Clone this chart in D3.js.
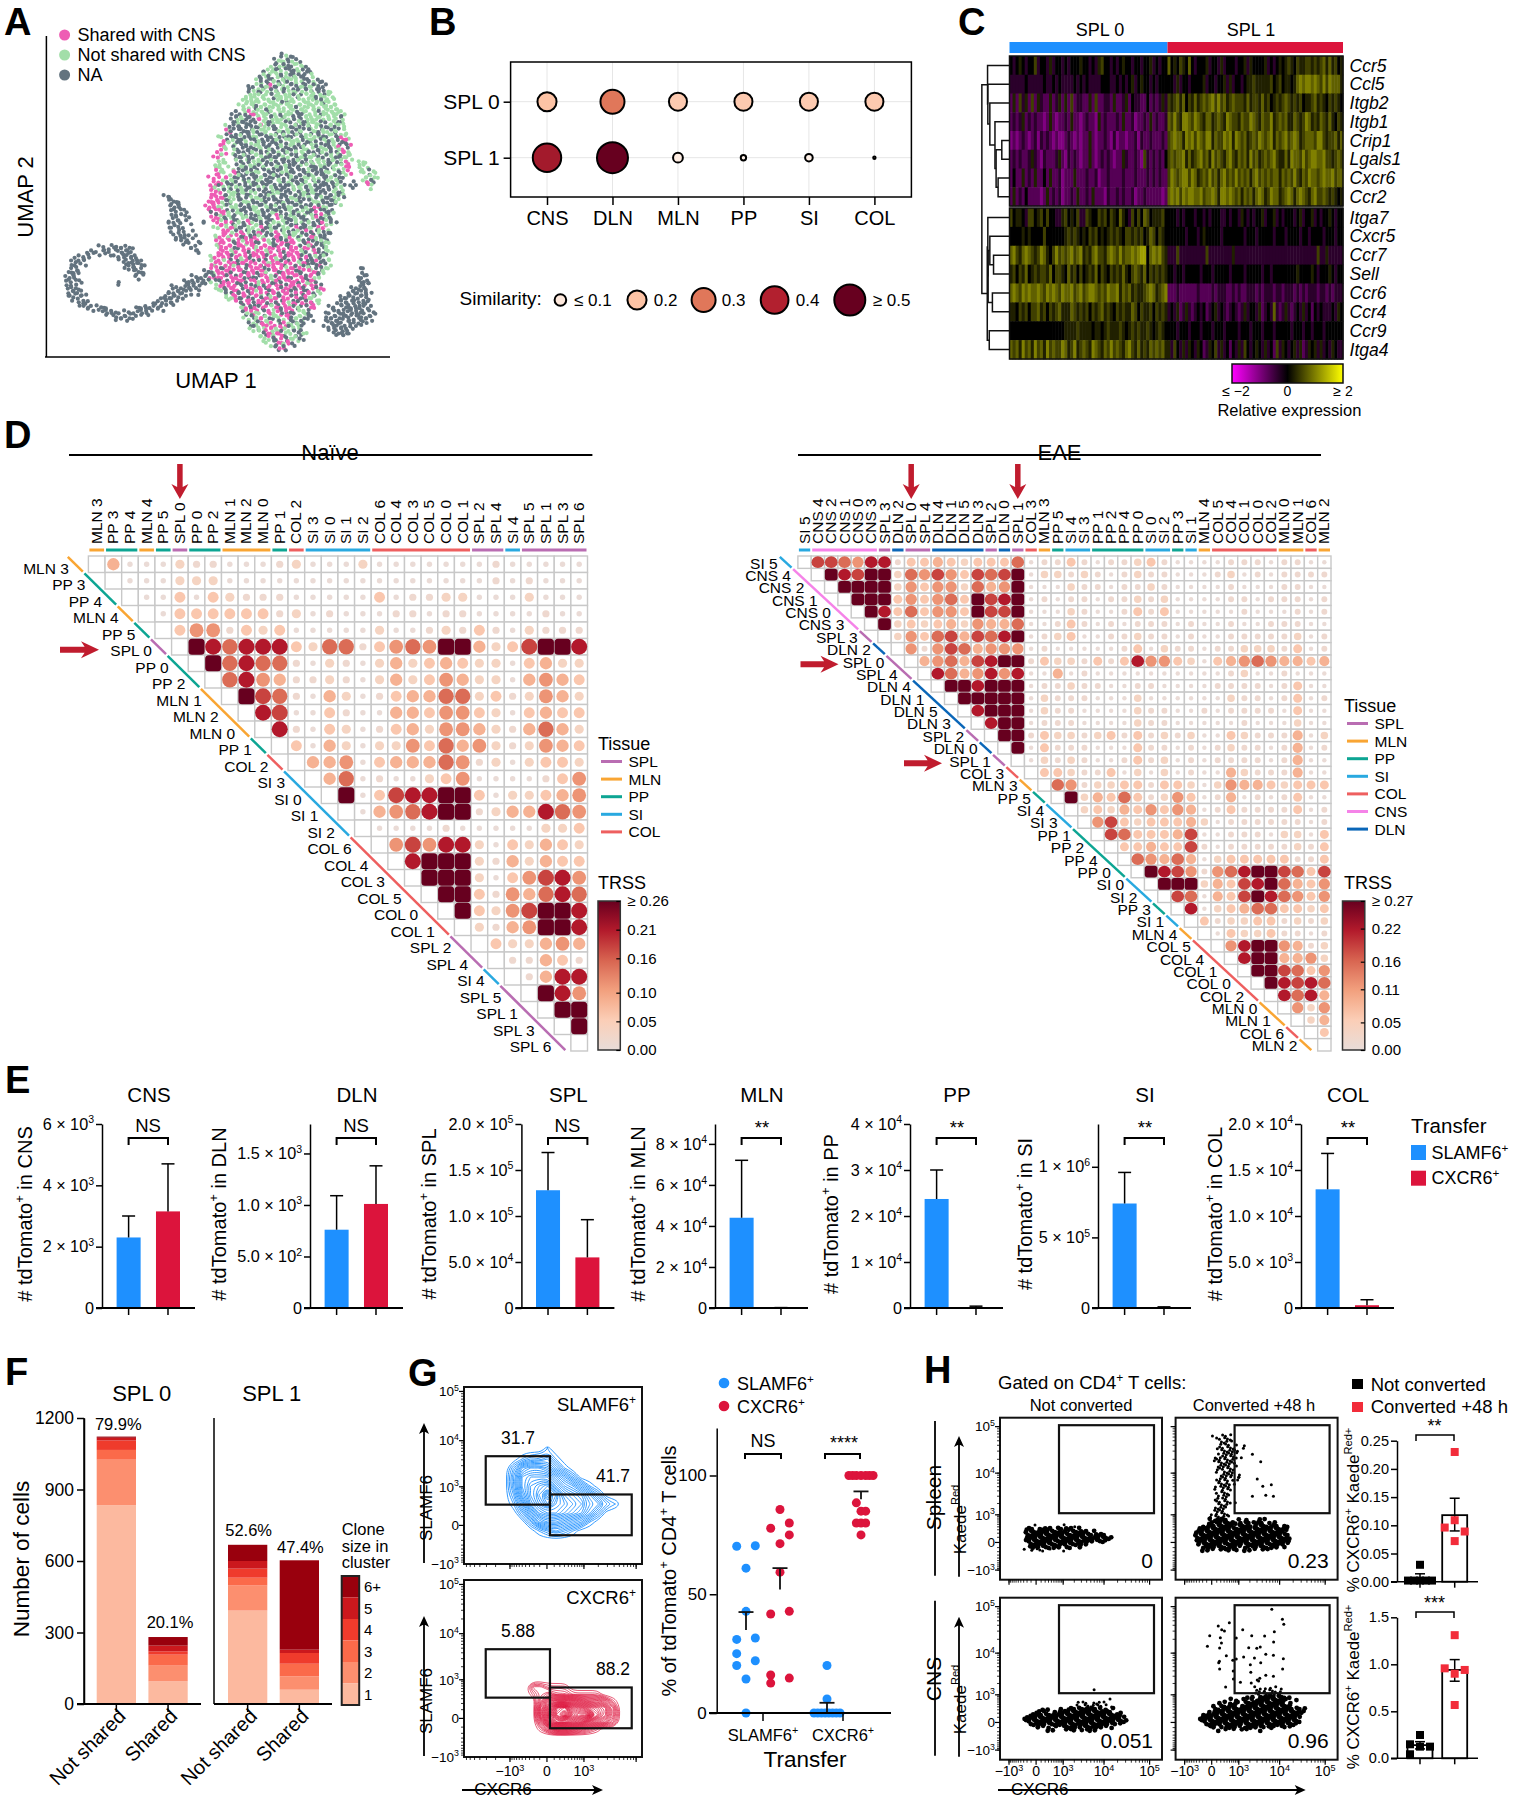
<!DOCTYPE html>
<html>
<head>
<meta charset="utf-8">
<script src="https://cdn.jsdelivr.net/npm/d3@7"></script>
<style>
  body { margin: 0; background: #fff; }
  svg { display: block; }
  text { font-family: "Liberation Sans", Arial, sans-serif; fill: #000; white-space: pre; }
</style>
</head>
<body>
<div id="chart"></div>
<script>
// ---------- panel A: UMAP cells, [row, first column, cells]
// n = NA, g = not shared with CNS, p = shared with CNS
const umapCells = [
  [0,44,"ngn"],[1,42,"nggngn"],[2,42,"gngnnggn"],[3,40,"nggngnngnn"],[4,40,"ngngngngnng"],
  [5,39,"gnngngnggnngnn"],[6,38,"ngngpnggnngngnn"],[7,37,"ngnggngnggngngnng"],[8,37,"gggggnggggngggnggg"],
  [9,36,"ggggggggngggggggngg"],[10,36,"gggngggggggngggggggg"],[11,35,"ngpgggngggggngggnggggg"],
  [12,34,"nngnnpggngnggnngggggggn"],[13,34,"ngnnnpgngggnngngggnggng"],[14,33,"gnnnnnnggnnggngnnggnngng"],
  [15,33,"pnnnngnggngngnngngnggngg"],[16,32,"gnnngnngnnngngngngggnngnpg"],[17,32,"pggnngngnnngngggnngngngnnp"],
  [18,32,"pg.nnnnggnnngngnnggngnngpn"],[19,31,"pp.gnnngnngngngnggnnnggngpg"],[20,31,"pg..nngnggnnnngnngnggnngnng"],
  [21,31,"gg..gnnggnngnnnngnngggngngp"],[22,31,"gg.gngngnngngngnnngnngnnggp"],[23,31,"pg.pnngngnnnnggnnngnnnggngp"],
  [24,30,"pp.pgngnnngnngnngnngngnngnn"],[25,30,"ppgngnngngnnngngnnnggnngngn"],[26,30,"pgngnggnnngngnnnnggngnnnngg"],
  [27,30,"ppnggngngnnnggnngngngnnngng"],[28,30,"pppnggnnggnngnnngnnggngnngn"],[29,29,"pppgngnggnngnnngnngnnggnnng"],
  [30,29,"pppgnggnnngngngnngnngnpngn"],[31,30,"pppgngnnggnngnngnggnnpnng"],[32,30,"ppgngnggnngnnpgnggnngpngn"],
  [33,31,"pgpngnpgnnngggnngngnnpgn"],[34,31,"gpgpgnnggpngnngnpnngnpg"],[35,32,"ppgnpgnpnngpgnggnpngnn"],
  [36,31,"gppgpnpnpggnpngpgnnpgnn"],[37,31,"pppnpgppnpgnppnpgnpnngg"],[38,31,"gpppnpppgpppnpnppnpgnng"],
  [39,31,"pppgppnpppgppnpppgnpnng"],[40,30,"gpppnpgpnppnpgpnppnpngng"],[41,30,"gpgppnpppnpgppnppgpnnpng"],
  [42,30,"ppnppgpnpppnpppgpnpngnng"],[43,29,"ngpppnpnppnpgpnpppnnppng"],[44,29,"gpnpnpppnpnppgnppnppnpg"],
  [45,30,"gnpppnpnpgppnpnppnpgpn"],[46,31,"gpnppnppnpnppnppnpnpnp"],[47,32,"gnpnpnpgpnpnppnpnpng"],
  [48,33,"ggpnpnpnpgpnpnpnpgg"],[49,35,"pnpnppnpnpgpnpnpg"],[50,36,"gpnpnpgpnppngnp"],
  [51,36,"ngpgnpgpnpnggn"],[52,37,"gngpgnggpnggnn"],[53,37,"ngnpgpnpgngn"],[54,38,"gngppgpgngn"],
  [55,39,"gnpgpngnng"],[56,40,"ggpnpnggn"],[57,41,"gnpgpn"],[58,43,"npn"],
  // ear on the right of the body
  [19,57,"g"],[20,58,"g"],[21,59,"gg"],[22,60,"gg"],[23,60,"gng"],[24,61,"ggg"],[25,58,"n.gpn"],[26,58,"n...g"],
  // upper grey arm
  [28,21,"nn"],[29,21,"nnn"],[30,22,"nnn"],[31,22,"nnn.....n"],[32,22,"nn.n"],[33,21,"nnn.n..n"],[34,22,"n.n"],
  [35,22,"nnn.n"],[36,23,"nnnn"],[37,24,"nn.n"],[38,26,"nn"],[39,27,"n"],
  // grey loop
  [38,8,"nnnnnnn"],[39,5,"nnnnn.nnnn"],[40,3,"nnn.....nnnnn"],[41,2,"nnn.......nnnnn"],[42,2,"nn.........nnnn"],
  [43,1,"nnn..........nnn"],[44,1,"nnn...........n"],[45,1,"nnn.......n"],[46,1,"nnn"],[47,1,"nnnn"],
  [48,2,"nnn"],[49,3,"nnn"],[50,5,"nnnnn.....nnnnnn"],[51,8,"nnnnnnnnnn"],[52,11,"nnnn"],
  [43,28,"nn"],[44,26,"nnnn"],[45,24,"nnnnn"],[46,22,"nnnnnn"],[47,21,"nnnnn.n"],[48,20,"nnnnn"],[49,18,"nnnnn"],
  // grey cluster on the lower right
  [42,60,"n"],[43,60,"n"],[44,60,"nn"],[45,59,"nnn"],[46,58,"nnnn"],[47,57,"nnnnn"],[48,56,"nnnnnn"],[49,55,"nnnnnnn"],
  [50,54,"nnnnnnnn"],[51,53,"nnnnnnnnnn"],[52,53,"nnnnnnnnnn"],[53,53,"nnnnnnnn"],[54,53,"nnnnnn"],[55,54,"nnnn"]
];
const umapLegend = ["Shared with CNS", "Not shared with CNS", "NA"];
// small fixed offsets so the cell lattice does not show
const cellSpread = [[-1.4,-0.9],[1.2,0.6],[-0.4,1.5],[1.6,-1.3],[0.3,-0.5],[-1.7,0.8],[0.9,1.7]];

// ---------- panel B
const bubbleTissues = ["CNS", "DLN", "MLN", "PP", "SI", "COL"];
const bubbleClusters = ["SPL 0", "SPL 1"];
const bubbleSpl0 = [0.19, 0.30, 0.17, 0.17, 0.17, 0.17];
const bubbleSpl1 = [0.42, 0.50, 0.05, 0.015, 0.03, 0.003];
const bubbleLegendValues = [0.07, 0.19, 0.30, 0.40, 0.50];
const bubbleLegendLabels = ["≤ 0.1", "0.2", "0.3", "0.4", "≥ 0.5"];

// ---------- panel C: one digit per cell, 0 = low, 4 = middle, 9 = high
const heatGenes = ["Ccr5","Ccl5","Itgb2","Itgb1","Crip1","Lgals1","Cxcr6","Ccr2","Itga7","Cxcr5","Ccr7","Sell","Ccr6","Ccr4","Ccr9","Itga4"];
const heatSpl0 = [
  "4345434463443534434344454434356443434544344344534344",
  "3333343333343343433334343433334443343434534544343444",
  "2526352625322523525262332252622332522352433224232353",
  "2323523232212521223252212322152322232522312232523223",
  "1212321231323212112321212252122321312212231322322232",
  "2323223532132223521323212252123232122532232163232324",
  "2422523252242522312225222322312232222322232223232322",
  "2523242222125232312232522325222132232322312232222212",
  "6455436645646443356454633654465646547543646476455564",
  "4444545444464444445656545465645456565466565645764654",
  "7865787656875468676786785657866578768677878994787865",
  "5646574565665746654756464565746546565754676574656565",
  "7876878778768787687786786788767687785767565567875678",
  "5546564667564656755576565646567565465655764655646565",
  "4444444444444444445555655554554565556545656556545654",
  "7675867586758676687568567658765768676578657565767675"
];
const heatSpl1 = [
  "745465474344453443534443445354444534345456546556656567575645",
  "443534434444534434453534434556555556456455457878878768687775",
  "656757465756767868675676665756657564565676565645567565465654",
  "768658876876577567658766576687657668567675576568756576575465",
  "678775878687688576687858767567687678576786787567776886566757",
  "676778575678675867657865767586756767865575877686788778665676",
  "687678868756768675786768676757867676775767686576877678778677",
  "787868788778677875887876757675787568775678757876578667656545",
  "444343444344343444334344354343445344534344434534453434454344",
  "444444344434544444344444443444344444344434444344344443444344",
  "333633333333363333333353333333333333333333333333333633533333",
  "443443444443444344444344443444443443444444445444454344454344",
  "222322222232222323332232322333232333233233323232333233232333",
  "343523532343423453432343235344352343732353234353424343334354",
  "444344434443444344434444344434443444344444344434434443444444",
  "536435354354235463534243536434543534263543453523545353435433"
];
// [height, child, child], leaves are indexes into heatGenes
const dendroTree = [0.97,
  [0.77, 0, [0.76, 1, [0.69, 2, [0.51, 3, [0.47, [0.27, 4, 5], [0.40, 6, 7]]]]]],
  [0.78, [0.76, 8, [0.75, [0.69, 9, [0.56, 10, 11]], [0.60, 12, 13]]], [0.71, 14, 15]]
];

// ---------- panel D: digit per cell right of the diagonal, level into trssLevels
const trssLevels = [0.004, 0.015, 0.035, 0.06, 0.085, 0.115, 0.15, 0.18, 0.21, 0.26];
const naiveLabels = ["MLN 3","PP 3","PP 4","MLN 4","PP 5","SPL 0","PP 0","PP 2","MLN 1","MLN 2","MLN 0","PP 1","COL 2","SI 3","SI 0","SI 1","SI 2","COL 6","COL 4","COL 3","COL 5","COL 0","COL 1","SPL 2","SPL 4","SI 4","SPL 5","SPL 1","SPL 3","SPL 6"];
const naiveRows = [
  "40002110001200020000000100000",
  "0002220000000000000000101000",
  "003032111000003011220002000",
  "03333331201000110110000100",
  "3551323000002001213102111",
  "986888326613565994237998",
  "96866102102423432203422",
  "6854112102423542204543",
  "976104201344662312542",
  "87003100443553203433",
  "8103201342554214642",
  "304202253645212543",
  "44503444651202332",
  "4601002350000135",
  "903788993022345",
  "04568991244865",
  "0000100000223",
  "575882032432",
  "89992142433",
  "9992035785",
  "993154686",
  "93257998",
  "2145998",
  "322454",
  "11431",
  "1488",
  "985",
  "99",
  "9"
];
const eaeLabels = ["SI 5","CNS 4","CNS 2","CNS 1","CNS 0","CNS 3","SPL 3","DLN 2","SPL 0","SPL 4","DLN 4","DLN 1","DLN 5","DLN 3","SPL 2","DLN 0","SPL 1","COL 3","MLN 3","PP 5","SI 4","SI 3","PP 1","PP 2","PP 4","PP 0","SI 0","SI 2","PP 3","SI 1","MLN 4","COL 5","COL 4","COL 1","COL 0","COL 2","MLN 0","MLN 1","COL 6","MLN 2"];
const eaeRows = [
  "776588133432333601131011231000011101100",
  "98799265753767902212101211000120101111",
  "9999253552645900021101121000010001100",
  "999353563978901011011212000011011101",
  "98363553977900021001313000001000101",
  "9232342544600131010111010010011100",
  "253674768901230011211010011111201",
  "51576455501000001302110112221301",
  "4564789913221313855320345654434",
  "864585800401000000000012001000",
  "99899901121100110000111101300",
  "9999902111000200000021101301",
  "899902110000211001011110300",
  "89901110000211000001000200",
  "9913221231312120032111402",
  "903111000311010121101401",
  "02121001312010111101400",
  "3321130202010042111400",
  "651223313320254432333",
  "92436312530140101300",
  "2324353540131111301",
  "573233342011111101",
  "76333470011102203",
  "3343371011111213",
  "654640233333113",
  "98751568997637",
  "9992437896435",
  "760437986535",
  "80234663323",
  "3122331212",
  "032231101",
  "58995412",
  "8994452",
  "997635",
  "98786",
  "8684",
  "525",
  "24",
  "3"
];
const tissueLegendNaive = ["SPL", "MLN", "PP", "SI", "COL"];
const tissueLegendEae = ["SPL", "MLN", "PP", "SI", "COL", "CNS", "DLN"];
const trssTicksNaive = [0, 0.05, 0.10, 0.16, 0.21, 0.26];
const trssLabelsNaive = ["0.00", "0.05", "0.10", "0.16", "0.21", "≥ 0.26"];
const trssTicksEae = [0, 0.05, 0.11, 0.16, 0.22, 0.27];
const trssLabelsEae = ["0.00", "0.05", "0.11", "0.16", "0.22", "≥ 0.27"];

// ---------- panel E
const transferGroups = ["SLAMF6+", "CXCR6+"];
const eTissues = ["CNS", "DLN", "SPL", "MLN", "PP", "SI", "COL"];
const eMax = [6000, 1786, 2e5, 8.97e4, 4e4, 1.303e6, 2e4];
const eSlamfMean = [2300, 760, 1.28e5, 4.4e4, 2.37e4, 7.4e5, 1.29e4];
const eSlamfTop = [3000, 1090, 1.69e5, 7.2e4, 3e4, 9.6e5, 1.68e4];
const eCxcrMean = [3150, 1010, 5.5e4, 100, 200, 4000, 300];
const eCxcrTop = [4700, 1380, 9.6e4, 200, 400, 8000, 900];
const eSig = ["NS", "NS", "NS", "**", "**", "**", "**"];
const eTicks = [
  [0, 2000, 4000, 6000],
  [0, 500, 1000, 1500],
  [0, 5e4, 1e5, 1.5e5, 2e5],
  [0, 2e4, 4e4, 6e4, 8e4],
  [0, 1e4, 2e4, 3e4, 4e4],
  [0, 5e5, 1e6],
  [0, 5e3, 1e4, 1.5e4, 2e4]
];
const eTickLabels = [
  ["0", "2 × 10^3", "4 × 10^3", "6 × 10^3"],
  ["0", "5.0 × 10^2", "1.0 × 10^3", "1.5 × 10^3"],
  ["0", "5.0 × 10^4", "1.0 × 10^5", "1.5 × 10^5", "2.0 × 10^5"],
  ["0", "2 × 10^4", "4 × 10^4", "6 × 10^4", "8 × 10^4"],
  ["0", "1 × 10^4", "2 × 10^4", "3 × 10^4", "4 × 10^4"],
  ["0", "5 × 10^5", "1 × 10^6"],
  ["0", "5.0 × 10^3", "1.0 × 10^4", "1.5 × 10^4", "2.0 × 10^4"]
];

// ---------- panel F
const cloneKeys = ["1", "2", "3", "4", "5", "6+"];
const cloneBars = ["Not shared", "Shared"];
const cloneSpl0 = [[834, 191, 41, 40, 11, 5], [95, 66, 46, 14, 24, 36]];
const cloneSpl1 = [[392, 105, 33, 38, 32, 68], [60, 56, 53, 45, 14, 375]];
const clonePctSpl0 = ["79.9%", "20.1%"];
const clonePctSpl1 = ["52.6%", "47.4%"];
const cloneTicks = [0, 300, 600, 900, 1200];

// ---------- panel G: density, one row per line
const slamfDensity = [
  [0,0,0,0,0,1,0,0,0,0,0,0,0,0,0],
  [0,0,1,2,2,3,1,0,0,0,0,0,0,0,0],
  [0,2,5,6,6,5,3,1,0,0,0,0,0,0,0],
  [0,3,7,8,8,8,6,4,2,0,0,0,0,0,0],
  [0,3,7,9,10,11,8,6,5,3,1,0,0,0,0],
  [0,2,6,9,11,14,11,8,7,6,4,2,0,0,0],
  [0,1,4,8,10,12,10,9,8,7,5,4,2,1,0],
  [0,0,2,5,8,9,9,8,7,6,4,2,0,0,0],
  [0,0,0,2,5,6,6,5,4,3,1,0,0,0,0],
  [0,0,0,0,1,2,3,2,1,0,0,0,0,0,0],
  [0,0,0,0,0,0,0,0,0,0,0,0,0,0,0]
];
const cxcrDensity = [
  [0,0,0,0,0,0,0,0,0,0,0,0,0],
  [0,2,2,1,1,1,0,0,0,0,0,0,0],
  [0,1,2,3,2,2,1,1,1,1,0,0,0],
  [0,0,3,6,7,7,6,5,4,4,3,1,0],
  [0,0,5,9,13,14,10,9,8,7,6,3,0],
  [0,0,5,10,14,16,12,11,12,8,6,3,0],
  [0,0,3,8,11,11,9,8,6,5,4,2,0],
  [0,0,1,3,5,5,4,3,2,1,0,0,0],
  [0,0,0,0,0,0,0,0,0,0,0,0,0]
];
const flowTickValues = [-1e3, 0, 1e3, 1e4, 1e5];
const flowTickLabels = ["−10^3", "0", "10^3", "10^4", "10^5"];
const gateSlamf = [-3100, 38, 324, 4760];   // xLow, xHigh, yLow, yHigh
const gateCxcr = [38, 8350, -116, 640];
// [percent, swarm slot]
const swarmSlamfInSlamf = [[70.2,-1],[70.4,1],[61,0],[42.8,0],[31,-1],[31.6,1],[25,-1],[22,1],[20,-1],[14.3,0],[0,0]];
const swarmCxcrInSlamf = [[85.7,0],[80,1],[77.8,-1],[75,1],[71.3,0],[59.3,0],[42.8,1],[41.7,-1],[16,-1],[14.7,1],[12.6,-1]];
const swarmSlamfInCxcr = [[20,0],[5.9,0],[0,-1.4],[0,-1],[0,-0.6],[0,-0.2],[0,0.2],[0,0.6],[0,1],[0,1.4]];
const swarmCxcrInCxcr = [[100,-1.3],[100,-0.9],[100,-0.5],[100,0],[100,0.5],[100,0.9],[100,1.3],[88.5,-0.5],[85,0],[85,0.5],[80,-0.5],[80,0],[80,0.5],[75,0]];
const swarmMeans = [[42.5, 35], [61, 52], [4.3, 0], [93.3, 90]];

// ---------- panel H: dots on a 54 x 54 grid over each flow plot, [row, first column, cells]
const flowSpleenNot = [
  [36,12,"#........#...#"],[37,9,"###.#####.##.###.#"],[38,9,"##############.######.#"],[39,9,"######################.####"],
  [40,9,"#############################"],[41,9,"###########################"],[42,10,"#########.########.#"],
  [43,10,"#######.###.##...#"],[44,8,"#..####..#...#"]
];
const flowSpleenConv = [
  [6,12,"#...###"],[7,14,"#####"],[8,15,"###.#"],[9,15,"#.##.#..#"],[10,14,"######...#"],[11,15,"#####.#"],[12,14,"#.#####"],
  [13,13,"#.######"],[14,13,"#######"],[15,14,"#######"],[16,14,"#####.#"],[17,14,"######"],[18,14,"#.####"],[19,15,"#####.#"],
  [20,15,"####..#"],[21,14,"####.#.#"],[22,14,"#####.#"],[23,13,"#.####"],[24,13,"#..###"],[25,14,"####"],[26,14,"#.###"],
  [27,13,"##.##"],[28,14,"#####.#"],[29,14,"####"],[30,13,"#####"],[31,13,"####"],[32,12,"#.####"],[33,12,"#####.#"],
  [34,11,"#.#####...#..#...#.#"],[35,11,"##.#######.###.####.#.#"],[36,9,"#.#########.#####.####.###.##"],
  [37,8,"##############################"],[38,7,"##############################"],[39,7,"###############################"],
  [40,7,"################################"],[41,7,"################################"],[42,8,"##############################"],
  [43,9,"########.####.##.#####.###.#"],[44,9,"#.##..#.####..#.##..#.#"],
  [12,26,"#"],[15,28,"#"],[13,22,"#"],[20,27,"#"],[20,21,"#"],[23,29,"#"],[22,32,"#"],[26,30,"#"],[26,26,"#"],[26,33,"#"],[11,20,"#"]
];
const flowCnsNot = [
  [31,31,"#"],[34,37,"#"],[35,26,"#.##.###.#"],[36,26,"#.####.###.#"],[37,14,"#.#...#..###########.#..#"],
  [38,12,"##.#..#.##################..#"],[39,10,"###############################"],[40,8,"##################################"],
  [41,9,"##################################"],[42,10,"#############################.#"],[43,13,"##.#..#.#####.#########.#"],
  [44,16,"#.#...#.##.#.##.#"]
];
const flowCnsConv = [
  [30,28,"#.#.##.#"],[31,27,"##.####.#"],[32,27,"#######.#"],[33,24,"#.#.#########.#"],[34,18,"#.#..#.#.###########..#"],
  [35,15,"##.#.##.##############.#"],[36,13,"#.##.###.#################"],[37,13,"##.##########################.#"],
  [38,11,"#.###############################"],[39,9,"#################################"],[40,8,"##################################"],
  [41,9,"#################################"],[42,10,"###############################"],[43,12,"##.#.#####.#######.###.##.#"],
  [44,14,"#..#.#..#.#...#"],
  [4,32,"#"],[7,36,"#"],[9,36,"#"],[8,18,"#"],[9,14,"#"],[11,22,"#"],[11,33,"#"],[11,15,"##"],[13,11,"#"],[13,15,"#"],[13,20,"#"],[13,25,"#"],
  [13,30,"#"],[15,33,"#"],[15,15,"#"],[16,11,"#"],[17,15,"#"],[16,28,"#"],[17,27,"#"],[17,24,"#"],[19,33,"#"],[19,30,"#"],[19,17,"#"],
  [20,20,"#"],[20,23,"#"],[20,26,"#"],[21,15,"#"],[22,14,"#"],[21,19,"#"],[20,36,"#"],[22,25,"#"],[22,28,"#"],[24,15,"#"],[24,19,"#"],
  [24,36,"#"],[26,33,"#"],[26,30,"#"],[27,27,"##"],[25,25,"#"],[28,22,"#"],[27,19,"#"],[28,25,"#"],[30,26,"#"],[30,17,"#"],[28,28,"#"]
];
const flowPercentRows = [["0", "0.23"], ["0.051", "0.96"]];

const kaedeGroups = ["Not converted", "Converted +48 h"];
const spleenNot = [[0.03,0],[0.002,-1.2],[0.002,-0.6],[0.002,0],[0.002,0.6],[0.002,1.2]];
const spleenConv = [[0.23,0],[0.109,0],[0.096,-1],[0.089,1],[0.072,0]];
const cnsNot = [[0.248,0],[0.149,-1],[0.124,1],[0.124,0],[0.043,-1]];
const cnsConv = [[1.31,0],[0.957,-1],[0.94,1],[0.9,0],[0.567,0]];
const spleenBars = [{ mean: 0.006, low: 0, high: 0.014 }, { mean: 0.118, low: 0.09, high: 0.148 }];
const cnsBars = [{ mean: 0.14, low: 0.10, high: 0.177 }, { mean: 0.94, low: 0.82, high: 1.05 }];

// ---------- colours
const tissueColor = { SPL: "#b96db2", MLN: "#f9a533", PP: "#0da593", SI: "#29a9e0", COL: "#ee5f5f", CNS: "#f583e8", DLN: "#0a66b8" };
const umapColor = { n: "#63737f", g: "#a2dea9", p: "#ee5db4" };
const blue = "#1e90ff", crimson = "#dc143c", arrowRed = "#c01c2e";
const simColor = d3.scaleLinear().domain([0, 0.1, 0.2, 0.3, 0.4, 0.5]).range(["#fff5ee", "#fde4d6", "#fdbf9f", "#e0775a", "#b2202f", "#67001f"]).clamp(true);
const trssColor = d3.scaleLinear().domain([0, 0.05, 0.10, 0.16, 0.21, 0.26]).range(["#e8dcd8", "#fbd0b9", "#f4a582", "#d6604d", "#b2182b", "#67001f"]).clamp(true);
const heatColor = d3.scaleLinear().domain([-2, 4, 12]).range(["#ff00ff", "#000000", "#ffff00"]);
const cloneColor = d3.scaleOrdinal().domain(cloneKeys).range(["#fcb99f", "#fc8f6f", "#fb6a4a", "#ef3b2c", "#cb181d", "#99000d"]);

const svg = d3.select("#chart").append("svg").attr("width", 1517).attr("height", 1800);
const defs = svg.append("defs");

// ---------- helpers
function richText(sel, str) {
  // "^token" becomes a superscript
  sel.text(null);
  let after = false;
  str.split(/\^(\S+)/).forEach(function (part, i) {
    if (part === "") return;
    const t = sel.append("tspan").text(part);
    if (i % 2 === 1) {
      t.attr("font-size", "65%").attr("dy", "-0.6em");
      after = true;
    } else if (after) {
      t.attr("dy", "0.39em");
      after = false;
    }
  });
}

function label(g, x, y, str, size, opts) {
  opts = opts || {};
  const t = g.append("text")
    .attr("x", opts.rotate ? 0 : x)
    .attr("y", opts.rotate ? 0 : y)
    .attr("font-size", size)
    .attr("text-anchor", opts.anchor || "start");
  if (opts.rotate) t.attr("transform", "translate(" + x + "," + y + ") rotate(" + opts.rotate + ")");
  if (opts.weight) t.attr("font-weight", opts.weight);
  if (opts.italic) t.attr("font-style", "italic");
  if (opts.dy) t.attr("dy", opts.dy);
  richText(t, str);
  return t;
}

function line(g, x1, y1, x2, y2, width, color) {
  return g.append("line").attr("x1", x1).attr("y1", y1).attr("x2", x2).attr("y2", y2)
    .attr("stroke", color || "#000").attr("stroke-width", width || 1.5);
}

function blockArrow(g, x1, y1, x2, y2, shaftW, headL, headW, color) {
  // shaft plus a notched head, drawn from (x1,y1) to the tip at (x2,y2)
  const len = Math.hypot(x2 - x1, y2 - y1);
  const ux = (x2 - x1) / len, uy = (y2 - y1) / len, nx = -uy, ny = ux;
  const p = function (along, side) { return [x1 + ux * along + nx * side, y1 + uy * along + ny * side]; };
  const notch = len - headL * 0.8;
  const pts = [p(0, shaftW / 2), p(notch, shaftW / 2), p(len - headL, headW / 2), p(len, 0), p(len - headL, -headW / 2), p(notch, -shaftW / 2), p(0, -shaftW / 2)];
  g.append("path").attr("d", "M" + pts.join("L") + "Z").attr("fill", color);
}

function bracket(g, x1, x2, y, drop, width) {
  g.append("path").attr("d", "M" + x1 + "," + (y + drop) + "V" + y + "H" + x2 + "V" + (y + drop))
    .attr("fill", "none").attr("stroke", "#000").attr("stroke-width", width || 2);
}

function styleAxis(g, size, width) {
  g.attr("font-family", null).attr("font-size", null);
  g.selectAll("text").attr("font-size", size);
  g.selectAll("path,line").attr("stroke", "#000").attr("stroke-width", width || 1.5);
}

// ---------- panels
function panelA() {
  const g = svg.append("g");
  const x = d3.scaleLinear().domain([0, 63]).range([60, 375]);
  const y = d3.scaleLinear().domain([0, 59]).range([55, 352]);
  const pts = [];
  umapCells.forEach(function (row) {
    row[2].split("").forEach(function (c, i) {
      if (c === ".") return;
      const col = row[1] + i + (row[0] % 2 ? 0.5 : 0);
      const a = cellSpread[(row[0] * 3 + row[1] * 5 + i * 5) % 7];
      const b = cellSpread[(row[0] * 5 + row[1] * 2 + i * 2 + 3) % 7];
      pts.push({ px: x(col) + a[0], py: y(row[0]) + a[1], kind: c });
      pts.push({ px: x(col + 0.5) + b[0], py: y(row[0] + 0.5) + b[1], kind: c });
    });
  });
  g.selectAll("circle").data(pts).join("circle")
    .attr("cx", function (d) { return d.px; })
    .attr("cy", function (d) { return d.py; })
    .attr("r", 2.1)
    .attr("fill", function (d) { return umapColor[d.kind]; });
  line(g, 46.4, 36, 46.4, 357, 1.5);
  line(g, 45, 357, 390, 357, 1.5);
  label(g, 216, 388, "UMAP 1", 22, { anchor: "middle" });
  label(g, 33, 197, "UMAP 2", 22, { anchor: "middle", rotate: -90 });
  ["p", "g", "n"].forEach(function (k, i) {
    g.append("circle").attr("cx", 64.6).attr("cy", 35 + i * 20).attr("r", 5.5).attr("fill", umapColor[k]);
    label(g, 77.5, 41 + i * 20, umapLegend[i], 18);
  });
}

function panelB() {
  const g = svg.append("g");
  const x = d3.scalePoint().domain(bubbleTissues).range([547, 874.4]);
  const y = d3.scalePoint().domain(bubbleClusters).range([101.7, 157.7]);
  const r = d3.scaleSqrt().domain([0, 0.5]).range([0, 15.5]);
  bubbleTissues.forEach(function (t) { line(g, x(t), 62, x(t), 197, 1, "#e6e6e6"); });
  bubbleClusters.forEach(function (c) { line(g, 510.6, y(c), 911.4, y(c), 1, "#e6e6e6"); });
  g.append("rect").attr("x", 510.6).attr("y", 62).attr("width", 400.8).attr("height", 135)
    .attr("fill", "none").attr("stroke", "#000").attr("stroke-width", 1.5);
  const axisB = g.append("g").attr("transform", "translate(0,197)")
    .call(d3.axisBottom(x).tickSize(8).tickSizeOuter(0).tickPadding(6));
  styleAxis(axisB, 20);
  axisB.select(".domain").remove();
  const axisL = g.append("g").attr("transform", "translate(510.6,0)")
    .call(d3.axisLeft(y).tickSize(7).tickSizeOuter(0).tickPadding(4));
  styleAxis(axisL, 21);
  axisL.select(".domain").remove();
  [bubbleSpl0, bubbleSpl1].forEach(function (vals, row) {
    g.append("g").selectAll("circle").data(vals).join("circle")
      .attr("cx", function (d, i) { return x(bubbleTissues[i]); })
      .attr("cy", y(bubbleClusters[row]))
      .attr("r", function (d) { return r(d); })
      .attr("fill", function (d) { return simColor(d); })
      .attr("stroke", "#000").attr("stroke-width", 2);
  });
  label(g, 459.5, 305, "Similarity:", 19);
  const legX = [560.4, 637, 703.6, 774.6, 849.8];
  const legT = [574, 653.8, 721.8, 795.8, 872.7];
  bubbleLegendValues.forEach(function (v, i) {
    g.append("circle").attr("cx", legX[i]).attr("cy", 300).attr("r", r(v))
      .attr("fill", simColor(v)).attr("stroke", "#000").attr("stroke-width", 2);
    label(g, legT[i], 306, bubbleLegendLabels[i], 17);
  });
}

function panelC() {
  const g = svg.append("g");
  const x0 = 1009.5, xMid = 1167.5, x1 = 1343;
  const yTop = d3.scaleBand().domain(d3.range(0, 8)).range([56, 206]);
  const yBot = d3.scaleBand().domain(d3.range(8, 16)).range([208, 359]);
  const rowY = function (i) { return i < 8 ? yTop(i) : yBot(i); };
  const rowH = function (i) { return i < 8 ? yTop.bandwidth() : yBot.bandwidth(); };

  g.append("rect").attr("x", x0).attr("y", 42).attr("width", xMid - x0).attr("height", 11).attr("fill", blue);
  g.append("rect").attr("x", xMid).attr("y", 42).attr("width", x1 - xMid).attr("height", 11).attr("fill", crimson);
  label(g, 1100, 36, "SPL 0", 18, { anchor: "middle" });
  label(g, 1251, 36, "SPL 1", 18, { anchor: "middle" });

  function cells(strings, a, b) {
    strings.forEach(function (s, row) {
      const digits = s.split("").map(Number);
      const x = d3.scaleBand().domain(d3.range(digits.length)).range([a, b]);
      g.append("g").selectAll("rect").data(digits).join("rect")
        .attr("x", function (d, i) { return x(i); })
        .attr("y", rowY(row))
        .attr("width", x.bandwidth() + 0.5)
        .attr("height", rowH(row) + 0.5)
        .attr("fill", function (d) { return heatColor(d); });
    });
  }
  cells(heatSpl0, x0, xMid);
  cells(heatSpl1, xMid, x1);
  [[56, 150], [208, 151]].forEach(function (b) {
    g.append("rect").attr("x", x0).attr("y", b[0]).attr("width", x1 - x0).attr("height", b[1])
      .attr("fill", "none").attr("stroke", "#111").attr("stroke-width", 1.5);
  });
  heatGenes.forEach(function (gene, i) {
    label(g, 1349.6, rowY(i) + rowH(i) / 2, gene, 17.5, { italic: true, dy: "0.35em" });
  });

  const hx = d3.scaleLinear().domain([0, 1]).range([x0, 981]);
  function node(n) {
    if (typeof n === "number") return { y: rowY(n) + rowH(n) / 2, h: 0 };
    const a = node(n[1]), b = node(n[2]);
    g.append("path")
      .attr("d", "M" + hx(a.h) + "," + a.y + "H" + hx(n[0]) + "V" + b.y + "H" + hx(b.h))
      .attr("fill", "none").attr("stroke", "#111").attr("stroke-width", 1.5);
    return { y: (a.y + b.y) / 2, h: n[0] };
  }
  node(dendroTree);

  const grad = defs.append("linearGradient").attr("id", "heatGrad");
  [[0, "#ff00ff"], [50, "#000000"], [100, "#ffff00"]].forEach(function (s) {
    grad.append("stop").attr("offset", s[0] + "%").attr("stop-color", s[1]);
  });
  g.append("rect").attr("x", 1232).attr("y", 364).attr("width", 111).attr("height", 19)
    .attr("fill", "url(#heatGrad)").attr("stroke", "#111").attr("stroke-width", 1.5);
  label(g, 1236, 396, "≤ −2", 14, { anchor: "middle" });
  label(g, 1287.5, 396, "0", 14, { anchor: "middle" });
  label(g, 1343, 396, "≥ 2", 14, { anchor: "middle" });
  label(g, 1289.4, 416, "Relative expression", 16.5, { anchor: "middle" });
}

function matrix(cfg) {
  const g = svg.append("g");
  const n = cfg.labels.length;
  const x = d3.scaleBand().domain(cfg.labels).range([cfg.x0, cfg.x1]);
  const y = d3.scaleBand().domain(cfg.labels).range([cfg.y0, cfg.y1]);
  const cw = x.bandwidth(), ch = y.bandwidth();
  const size = d3.scaleSqrt().domain([0, 0.26]).range([3.5 * cfg.k, 19 * cfg.k]);
  const tissue = function (l) { return l.split(" ")[0]; };

  // title with its rule
  label(g, cfg.titleX, 460, cfg.title, 22, { anchor: "middle" });
  line(g, cfg.ruleX[0], 455, cfg.ruleX[1], 455, 1.8);

  // cells
  const cells = [];
  cfg.labels.forEach(function (rowLabel, i) {
    cells.push({ row: rowLabel, col: rowLabel, v: null });
    (cfg.rows[i] || "").split("").forEach(function (c, j) {
      cells.push({ row: rowLabel, col: cfg.labels[i + 1 + j], v: trssLevels[+c] });
    });
  });
  g.append("g").selectAll("rect").data(cells).join("rect")
    .attr("x", function (d) { return x(d.col); })
    .attr("y", function (d) { return y(d.row); })
    .attr("width", cw).attr("height", ch)
    .attr("fill", "#fff").attr("stroke", "#c8c8c8").attr("stroke-width", 1.4);
  g.append("g").selectAll("rect").data(cells.filter(function (d) { return d.v !== null; })).join("rect")
    .each(function (d) {
      const w = Math.min(cw - 0.6, size(d.v)), h = Math.min(ch - 0.6, size(d.v));
      d3.select(this)
        .attr("x", x(d.col) + (cw - w) / 2).attr("y", y(d.row) + (ch - h) / 2)
        .attr("width", w).attr("height", h)
        .attr("rx", d.v >= 0.25 ? 3.5 * cfg.k : w / 2)
        .attr("fill", trssColor(d.v));
    });

  // top labels and colour runs
  cfg.labels.forEach(function (l) {
    label(g, x(l) + cw / 2 + 5, 544, l, 15.5, { rotate: -90 });
  });
  const runs = [];
  cfg.labels.forEach(function (l, i) {
    const t = tissue(l);
    if (runs.length && runs[runs.length - 1].t === t) runs[runs.length - 1].end = i + 1;
    else runs.push({ t: t, start: i, end: i + 1 });
  });
  const pos = d3.scaleLinear().domain([0, n]);
  const topX = pos.copy().range([cfg.x0, cfg.x1]);
  const diagX = pos.copy().range([cfg.x0 - cfg.diagDx, cfg.x1 - cfg.diagDx]);
  const diagY = pos.copy().range([cfg.y0, cfg.y1]);
  runs.forEach(function (r) {
    line(g, topX(r.start) + 1, 550, topX(r.end) - 1, 550, 3, tissueColor[r.t]);
    line(g, diagX(r.start) + 0.8, diagY(r.start) + 0.8, diagX(r.end) - 0.8, diagY(r.end) - 0.8, 2.5, tissueColor[r.t]);
  });
  cfg.labels.forEach(function (l, i) {
    label(g, diagX(i + 0.5) - cfg.rowDx, diagY(i + 0.5) + cfg.rowDy, l, 15.5, { anchor: "end", dy: "0.35em" });
  });

  // arrows
  cfg.topArrows.forEach(function (l) {
    blockArrow(g, x(l) + cw / 2, 464, x(l) + cw / 2, 499, 5.5, 15, 17, arrowRed);
  });
  cfg.sideArrows.forEach(function (a) {
    blockArrow(g, a[0], y(a[2]) + ch / 2 + 3, a[1], y(a[2]) + ch / 2 + 3, 6, 18, 17, arrowRed);
  });

  // tissue legend
  label(g, cfg.legX, cfg.legY, "Tissue", 18);
  cfg.legend.forEach(function (t, i) {
    const yy = cfg.legY + 11.5 + i * 17.6;
    line(g, cfg.legX + 3, yy, cfg.legX + 24, yy, 3, tissueColor[t]);
    label(g, cfg.legX + 30.5, yy + 5.5, t, 15.5);
  });

  // colour bar
  const scale = d3.scaleLinear().domain([0, cfg.barTicks[5]]).range([1050, 901]);
  const gradId = "trss" + cfg.title.length;
  const grad = defs.append("linearGradient").attr("id", gradId).attr("x1", 0).attr("x2", 0).attr("y1", 1).attr("y2", 0);
  d3.range(0, 1.01, 0.1).forEach(function (t) {
    grad.append("stop").attr("offset", t * 100 + "%").attr("stop-color", trssColor(t * 0.26));
  });
  g.append("rect").attr("x", cfg.barX).attr("y", 901).attr("width", 22.3).attr("height", 149)
    .attr("fill", "url(#" + gradId + ")").attr("stroke", "#333").attr("stroke-width", 1.5);
  const axis = g.append("g").attr("transform", "translate(" + (cfg.barX + 22.3) + ",0)")
    .call(d3.axisRight(scale).tickValues(cfg.barTicks).tickSize(-4).tickPadding(7).tickFormat(function (d, i) { return cfg.barLabels[i]; }));
  styleAxis(axis, 15, 1.2);
  axis.select(".domain").remove();
  label(g, cfg.legX, 889, "TRSS", 18);
}

function panelE() {
  const g = svg.append("g");
  const axisX = [102, 310, 521.4, 715, 910, 1098, 1301];
  const labelX = [32, 226, 436, 645, 838, 1032, 1222];
  eTissues.forEach(function (name, i) {
    const p = g.append("g").attr("transform", "translate(" + axisX[i] + ",0)");
    const x = d3.scaleBand().domain(transferGroups).range([14.6, 78]).paddingInner(0.39);
    const y = d3.scaleLinear().domain([0, eMax[i]]).range([1308, 1124]);
    const means = [eSlamfMean[i], eCxcrMean[i]], tops = [eSlamfTop[i], eCxcrTop[i]];
    p.selectAll("rect").data(transferGroups).join("rect")
      .attr("x", function (d) { return x(d); })
      .attr("width", x.bandwidth())
      .attr("y", function (d, j) { return y(means[j]); })
      .attr("height", function (d, j) { return 1308 - y(means[j]); })
      .attr("fill", function (d, j) { return j ? crimson : blue; });
    transferGroups.forEach(function (t, j) {
      const cx = x(t) + x.bandwidth() / 2;
      line(p, cx, y(means[j]), cx, y(tops[j]), 1.5);
      line(p, cx - 6.5, y(tops[j]), cx + 6.5, y(tops[j]), 1.5);
    });
    const ay = p.append("g")
      .call(d3.axisLeft(y).tickValues(eTicks[i]).tickSize(6).tickSizeOuter(0).tickPadding(2).tickFormat(""));
    styleAxis(ay, 16.2);
    ay.selectAll("text").each(function (d, j) { richText(d3.select(this), eTickLabels[i][j]); });
    const ax = p.append("g").attr("transform", "translate(0,1308)")
      .call(d3.axisBottom(x).tickSize(7).tickSizeOuter(0).tickFormat(""));
    styleAxis(ax, 10);
    ax.select(".domain").remove();
    line(p, -6, 1308, 93, 1308, 1.8);

    label(p, 47, 1102, name, 20.5, { anchor: "middle" });
    bracket(p, 26.6, 66, 1138, 7, 2);
    if (eSig[i] === "NS") label(p, 46, 1132, "NS", 18.5, { anchor: "middle" });
    else label(p, 47, 1134, "**", 18.5, { anchor: "middle" });
    label(g, labelX[i], 1214, "# tdTomato^+ in " + name, 20, { anchor: "middle", rotate: -90 });
  });
  label(g, 1411, 1133, "Transfer", 20.5);
  g.append("rect").attr("x", 1411).attr("y", 1145).attr("width", 15).attr("height", 15).attr("fill", blue);
  g.append("rect").attr("x", 1411).attr("y", 1170.7).attr("width", 15).attr("height", 15).attr("fill", crimson);
  label(g, 1431.5, 1159, "SLAMF6^+", 18);
  label(g, 1431.5, 1184, "CXCR6^+", 18);
}

function panelF() {
  const g = svg.append("g");
  const y = d3.scaleLinear().domain([0, 1200]).range([1704, 1418]);
  const stack = d3.stack().keys(d3.range(6));

  function oneChart(left, right, axisX, axisEnd, values, pcts, pctY, title, titleX, withLabels) {
    const x = d3.scaleBand().domain(cloneBars).range([left, right]).paddingInner(0.24);
    stack(values).forEach(function (layer, k) {
      g.append("g").selectAll("rect").data(layer).join("rect")
        .attr("x", function (d, i) { return x(cloneBars[i]); })
        .attr("width", x.bandwidth())
        .attr("y", function (d) { return y(d[1]); })
        .attr("height", function (d) { return y(d[0]) - y(d[1]); })
        .attr("fill", cloneColor(cloneKeys[k]));
    });
    const ax = g.append("g").attr("transform", "translate(0,1704)")
      .call(d3.axisBottom(x).tickSize(8).tickSizeOuter(0));
    styleAxis(ax, 20);
    ax.select(".domain").remove();
    ax.selectAll("text").attr("text-anchor", "end").attr("x", -2).attr("y", 10).attr("dy", "0.35em").attr("transform", "rotate(-45)");
    line(g, axisX, 1704, axisEnd, 1704, 1.8);
    line(g, axisX + (withLabels ? 7 : 0), 1418, axisX + (withLabels ? 7 : 0), 1704, 1.5);
    pcts.forEach(function (p, i) {
      label(g, x(cloneBars[i]) + x.bandwidth() / 2 + (withLabels ? 2 : 1), pctY[i], p, 16.5, { anchor: "middle" });
    });
    label(g, titleX, 1400.7, title, 22, { anchor: "middle" });
  }
  oneChart(96.7, 187.7, 77, 201, cloneSpl0, clonePctSpl0, [1430, 1628], "SPL 0", 141.7, true);
  oneChart(228, 319, 214, 332, cloneSpl1, clonePctSpl1, [1536, 1553], "SPL 1", 271.7, false);

  const ay = g.append("g").attr("transform", "translate(84,0)")
    .call(d3.axisLeft(y).tickValues(cloneTicks).tickSize(7).tickSizeOuter(0).tickPadding(3).tickFormat(d3.format("d")));
  styleAxis(ay, 17.5);
  label(g, 29, 1559, "Number of cells", 22.5, { anchor: "middle", rotate: -90 });

  label(g, 341.7, 1535, "Clone", 16.5);
  label(g, 341.7, 1551.7, "size in", 16.5);
  label(g, 341.7, 1567.5, "cluster", 16.5);
  const band = d3.scaleBand().domain(cloneKeys.slice().reverse()).range([1576, 1705]);
  g.selectAll(".cloneKey").data(band.domain()).join("rect").attr("class", "cloneKey")
    .attr("x", 341.7).attr("width", 17.5)
    .attr("y", function (d) { return band(d); }).attr("height", band.bandwidth())
    .attr("fill", function (d) { return cloneColor(d); });
  g.append("rect").attr("x", 341.7).attr("y", 1576).attr("width", 17.5).attr("height", 129)
    .attr("fill", "none").attr("stroke", "#222").attr("stroke-width", 2);
  band.domain().forEach(function (k) {
    label(g, 364, band(k) + band.bandwidth() / 2, k, 15, { dy: "0.35em" });
  });
}

function flowMinorTicks() {
  const out = [];
  [1e2, 1e3, 1e4].forEach(function (m) {
    d3.range(1, 10).forEach(function (k) { out.push(k * m); });
  });
  return out.concat(out.map(function (v) { return -v; }));
}

function flowFrame(g, w, h, x, y, cfg) {
  g.append("rect").attr("width", w).attr("height", h).attr("fill", "none").attr("stroke", "#111").attr("stroke-width", 2);
  const minor = flowMinorTicks().concat([1e5]);
  const inX = function (v) { return x(v) > 1 && x(v) < w - 1; };
  const inY = function (v) { return y(v) > 1 && y(v) < h - 1; };
  minor.forEach(function (v) {
    if (inY(v)) line(g, 0, y(v), -3, y(v), 0.8);
    if (inX(v)) line(g, x(v), h, x(v), h + 3, 0.8);
  });
  flowTickValues.forEach(function (v, i) {
    if (inY(v)) line(g, 0, y(v), -5, y(v), 1.2);
    if (cfg.yLabels) label(g, -5, y(v), flowTickLabels[i], 13.5, { anchor: "end", dy: "0.35em" });
    if (inX(v)) {
      line(g, x(v), h, x(v), h + 5, 1.2);
      if (cfg.xLabels && i < cfg.xCount) label(g, x(v), cfg.xLabelY - cfg.top, flowTickLabels[i], 14, { anchor: "middle" });
    }
  });
}

function panelG() {
  const g = svg.append("g");
  const w = 178, h = 177;
  const x = d3.scaleSymlog().constant(300).domain([-7750, 12700]).range([0, w]);
  const y = d3.scaleSymlog().constant(200).domain([-1000, 1.23e5]).range([h, 0]);
  const smooth = d3.line().curve(d3.curveBasisClosed);

  function flow(top, density, box, color, title, pctA, pctB, xLabels, step, lineW) {
    const p = g.append("g").attr("transform", "translate(464," + top + ")");
    const rows = density.length, cols = density[0].length;
    const sx = d3.scaleLinear().domain([0.5, cols - 0.5]).range([box[0], box[1]]);
    const sy = d3.scaleLinear().domain([0.5, rows - 0.5]).range([box[2], box[3]]);
    const contours = d3.contours().size([cols, rows]).thresholds(d3.range(0.5, 16, step))(density.flat());
    contours.forEach(function (c) {
      c.coordinates.forEach(function (poly) {
        poly.forEach(function (ring) {
          p.append("path")
            .attr("d", smooth(ring.map(function (q) { return [sx(q[0]), sy(q[1])]; })))
            .attr("fill", "none").attr("stroke", color).attr("stroke-width", lineW);
        });
      });
    });
    flowFrame(p, w, h, x, y, { yLabels: true, xLabels: xLabels, xCount: 3, xLabelY: 1776, top: top });
    [gateSlamf, gateCxcr].forEach(function (b) {
      p.append("rect")
        .attr("x", x(b[0])).attr("width", x(b[1]) - x(b[0]))
        .attr("y", y(b[3])).attr("height", y(b[2]) - y(b[3]))
        .attr("fill", "none").attr("stroke", "#111").attr("stroke-width", 2.2);
    });
    label(p, 172, 24, title, 18.5, { anchor: "end" });
    label(p, 54, 57, pctA, 17.5, { anchor: "middle" });
    label(p, 149, 95, pctB, 17.5, { anchor: "middle" });
    // y arrow and its label
    blockArrow(g, 424, top + 176, 424, top + 36, 1.8, 11, 10, "#000");
    label(g, 432, top + 121, "SLAMF6", 17, { anchor: "middle", rotate: -90 });
  }
  flow(1387, slamfDensity, [41, 160, 63, 153], blue, "SLAMF6^+", "31.7", "41.7", false, 0.5, 0.9);
  flow(1580, cxcrDensity, [61, 157, 100, 156], crimson, "CXCR6^+", "5.88", "88.2", true, 0.35, 0.7);
  blockArrow(g, 462, 1790, 603, 1790, 1.8, 11, 10, "#000");
  label(g, 503, 1795, "CXCR6", 17, { anchor: "middle" });

  // percent scatter
  const py = d3.scaleLinear().domain([0, 120]).range([1713, 1428]);
  const groups = d3.scaleBand().domain(transferGroups).range([723, 883]);
  const slot = d3.scaleLinear().domain([-1, 1]).range([-9.3, 9.3]);
  const dots = [
    { data: swarmSlamfInSlamf, cx: 746, color: blue },
    { data: swarmCxcrInSlamf, cx: 780, color: crimson },
    { data: swarmSlamfInCxcr, cx: 827, color: blue },
    { data: swarmCxcrInCxcr, cx: 861, color: crimson }
  ];
  dots.forEach(function (set, k) {
    g.append("g").selectAll("circle").data(set.data).join("circle")
      .attr("cx", function (d) { return set.cx + slot(d[1]); })
      .attr("cy", function (d) { return py(d[0]); })
      .attr("r", 4.5).attr("fill", set.color);
    line(g, set.cx - 7.5, py(swarmMeans[k][0]), set.cx + 7.5, py(swarmMeans[k][0]), 1.8, "#111");
    line(g, set.cx, py(swarmMeans[k][0]), set.cx, py(swarmMeans[k][1]), 1.8, "#111");
  });
  const ax = g.append("g").attr("transform", "translate(0,1713)")
    .call(d3.axisBottom(groups).tickSize(8).tickSizeOuter(0).tickPadding(8)
      .tickFormat(function (d) { return d; }));
  styleAxis(ax, 16.5);
  ax.select(".domain").remove();
  ax.selectAll("text").each(function (d) { richText(d3.select(this), d.replace("+", "^+")); });
  line(g, 709, 1713, 891, 1713, 1.8);
  const ay = g.append("g").attr("transform", "translate(716.7,0)")
    .call(d3.axisLeft(py).tickValues([0, 50, 100]).tickSize(7).tickSizeOuter(0).tickPadding(3));
  styleAxis(ay, 17);
  label(g, 676, 1571, "% of tdTomato^+ CD4^+ T cells", 20, { anchor: "middle", rotate: -90 });
  label(g, 805, 1767, "Transfer", 22.5, { anchor: "middle" });
  label(g, 763, 1447, "NS", 18, { anchor: "middle" });
  bracket(g, 745, 781, 1454, 5, 2);
  label(g, 844, 1449, "****", 18, { anchor: "middle" });
  bracket(g, 825, 860, 1454, 5, 2);
  [[blue, "SLAMF6^+"], [crimson, "CXCR6^+"]].forEach(function (d, i) {
    g.append("circle").attr("cx", 724).attr("cy", 1383 + i * 23).attr("r", 5.3).attr("fill", d[0]);
    label(g, 737, 1390 + i * 23, d[1], 18);
  });
}

function panelH() {
  const g = svg.append("g");
  const w = 162, h = 162;
  const x = d3.scaleSymlog().constant(350).domain([-1767, 186000]).range([0, w]);
  const y = d3.scaleSymlog().constant(350).domain([-1810, 155000]).range([h, 0]);
  const col = d3.scaleLinear().domain([0, 54]).range([0, w]);
  const row = d3.scaleLinear().domain([0, 54]).range([0, h]);

  label(g, 998, 1389, "Gated on CD4^+ T cells:", 18.5);
  label(g, 1081, 1411, kaedeGroups[0], 16.5, { anchor: "middle" });
  label(g, 1254, 1411, kaedeGroups[1], 16.5, { anchor: "middle" });

  function flow(left, top, cells, pct, xLabels) {
    const p = g.append("g").attr("transform", "translate(" + left + "," + top + ")");
    const pts = [];
    cells.forEach(function (c) {
      // long runs are the dense blob, short ones are scattered events
      const dense = c[2].length >= 15;
      c[2].split("").forEach(function (ch, i) {
        if (ch !== "#") return;
        const s = cellSpread[(c[0] * 3 + (c[1] + i) * 5) % 7];
        pts.push({ px: col(c[1] + i) + s[0] * 0.7, py: row(c[0]) + s[1] * 0.7, r: dense ? 2.4 : 1.5 });
      });
    });
    p.append("g").selectAll("circle").data(pts).join("circle")
      .attr("cx", function (d) { return d.px; })
      .attr("cy", function (d) { return d.py; })
      .attr("r", function (d) { return d.r; }).attr("fill", "#000");
    flowFrame(p, w, h, x, y, { yLabels: left < 1100, xLabels: xLabels, xCount: 5, xLabelY: 1776, top: top });
    p.append("rect").attr("x", 59).attr("y", 7.5).attr("width", 95).attr("height", 88)
      .attr("fill", "none").attr("stroke", "#111").attr("stroke-width", 2.2);
    label(p, 153, h - 12, pct, 21, { anchor: "end" });
  }
  flow(1000, 1417.7, flowSpleenNot, flowPercentRows[0][0], false);
  flow(1175.6, 1417.7, flowSpleenConv, flowPercentRows[0][1], false);
  flow(1000, 1597.7, flowCnsNot, flowPercentRows[1][0], true);
  flow(1175.6, 1597.7, flowCnsConv, flowPercentRows[1][1], true);

  [["Spleen", 1497.5, 1421, 1575.7, 1436, 1576.7, 1519.5], ["CNS", 1679, 1600.7, 1755.7, 1616.7, 1756.7, 1699.5]].forEach(function (d) {
    line(g, 935, d[2], 935, d[3], 1.8);
    label(g, 941, d[1], d[0], 21, { anchor: "middle", rotate: -90 });
    blockArrow(g, 959, d[5], 959, d[4], 1.8, 11, 10, "#000");
    label(g, 966, d[6], "Kaede^Red", 17, { anchor: "middle", rotate: -90 });
  });
  blockArrow(g, 998, 1790, 1305.7, 1790, 1.8, 11, 10, "#000");
  label(g, 1039.7, 1795, "CXCR6", 17, { anchor: "middle" });

  // legend
  g.append("rect").attr("x", 1352).attr("y", 1379).attr("width", 11).attr("height", 10).attr("fill", "#000");
  g.append("rect").attr("x", 1352).attr("y", 1402).attr("width", 11).attr("height", 10).attr("fill", "#f22c3a");
  label(g, 1370.7, 1391, kaedeGroups[0], 18.5);
  label(g, 1370.7, 1413, kaedeGroups[1], 18.5);

  // bar + point charts
  const bx = d3.scaleBand().domain(kaedeGroups).range([1407.5, 1467.2]).paddingInner(0.28);
  const slot = d3.scaleLinear().domain([-1, 1]).range([-10, 10]);
  function barChart(domain, y0, y1, ticks, fmt, bars, notPts, convPts, stars, brY, labelY) {
    const sy = d3.scaleLinear().domain(domain).range([y0, y1]);
    const p = g.append("g");
    p.selectAll("rect").data(bars).join("rect")
      .attr("x", function (d, i) { return bx(kaedeGroups[i]); })
      .attr("width", bx.bandwidth())
      .attr("y", function (d) { return sy(d.mean); })
      .attr("height", function (d) { return y0 - sy(d.mean); })
      .attr("fill", "#fff").attr("stroke", "#000").attr("stroke-width", 1.8);
    bars.forEach(function (d, i) {
      const cx = bx(kaedeGroups[i]) + bx.bandwidth() / 2;
      line(p, cx, sy(d.low), cx, sy(d.high), 1.5);
      line(p, cx - 5, sy(d.low), cx + 5, sy(d.low), 1.5);
      line(p, cx - 5, sy(d.high), cx + 5, sy(d.high), 1.5);
    });
    [[notPts, 0, "#000"], [convPts, 1, "#f22c3a"]].forEach(function (set) {
      const cx = bx(kaedeGroups[set[1]]) + bx.bandwidth() / 2;
      p.append("g").selectAll("rect").data(set[0]).join("rect")
        .attr("x", function (d) { return cx + slot(d[1]) - 4; })
        .attr("y", function (d) { return sy(d[0]) - 4; })
        .attr("width", 8).attr("height", 8)
        .attr("fill", set[2]);
    });
    const ay = p.append("g").attr("transform", "translate(1397,0)")
      .call(d3.axisLeft(sy).tickValues(ticks).tickSize(6).tickSizeOuter(0).tickPadding(2).tickFormat(d3.format(fmt)));
    styleAxis(ay, 14.5);
    const ax = p.append("g").attr("transform", "translate(0," + y0 + ")")
      .call(d3.axisBottom(bx).tickSize(6).tickSizeOuter(0).tickFormat(""));
    styleAxis(ax, 10);
    ax.select(".domain").remove();
    line(p, 1391, y0, 1478, y0, 1.6);
    bracket(p, 1416, 1454, brY, 6, 1.5);
    label(p, 1434.6, brY - 3, stars, 18, { anchor: "middle" });
    label(p, 1359, labelY, "% CXCR6^+ Kaede^Red+", 17, { anchor: "middle", rotate: -90 });
  }
  barChart([0, 0.25], 1581.7, 1440.7, [0, 0.05, 0.10, 0.15, 0.20, 0.25], ".2f", spleenBars, spleenNot, spleenConv, "**", 1435, 1510);
  barChart([0, 1.5], 1758.3, 1617.3, [0, 0.5, 1.0, 1.5], ".1f", cnsBars, cnsNot, cnsConv, "***", 1612, 1687);
}

function panelLetters() {
  [["A", 4, 35], ["B", 429, 35], ["C", 958, 35], ["D", 4, 448], ["E", 5, 1093], ["F", 5, 1385], ["G", 408, 1386], ["H", 924, 1383]].forEach(function (d) {
    label(svg, d[1], d[2], d[0], 38, { weight: "bold" });
  });
}

function init() {
  panelA();
  panelB();
  panelC();
  matrix({
    title: "Naïve", titleX: 330, ruleX: [69, 592.4], labels: naiveLabels, rows: naiveRows,
    x0: 88.4, x1: 587.5, y0: 556, y1: 1051, k: 1, diagDx: 21.4, rowDx: 6.5, rowDy: 4,
    topArrows: ["SPL 0"], sideArrows: [[60, 99, "SPL 0"]],
    legX: 598, legY: 750, legend: tissueLegendNaive, barX: 598, barTicks: trssTicksNaive, barLabels: trssLabelsNaive
  });
  matrix({
    title: "EAE", titleX: 1059.5, ruleX: [798, 1321], labels: eaeLabels, rows: eaeRows,
    x0: 797.9, x1: 1331, y0: 556, y1: 1051, k: 0.82, diagDx: 18.9, rowDx: 8, rowDy: 1,
    topArrows: ["SPL 0", "SPL 1"], sideArrows: [[800.5, 838.5, "SPL 0"], [904, 942, "SPL 1"]],
    legX: 1344, legY: 712, legend: tissueLegendEae, barX: 1342.5, barTicks: trssTicksEae, barLabels: trssLabelsEae
  });
  panelE();
  panelF();
  panelG();
  panelH();
  panelLetters();
}

window.onload = init;
</script>
</body>
</html>
